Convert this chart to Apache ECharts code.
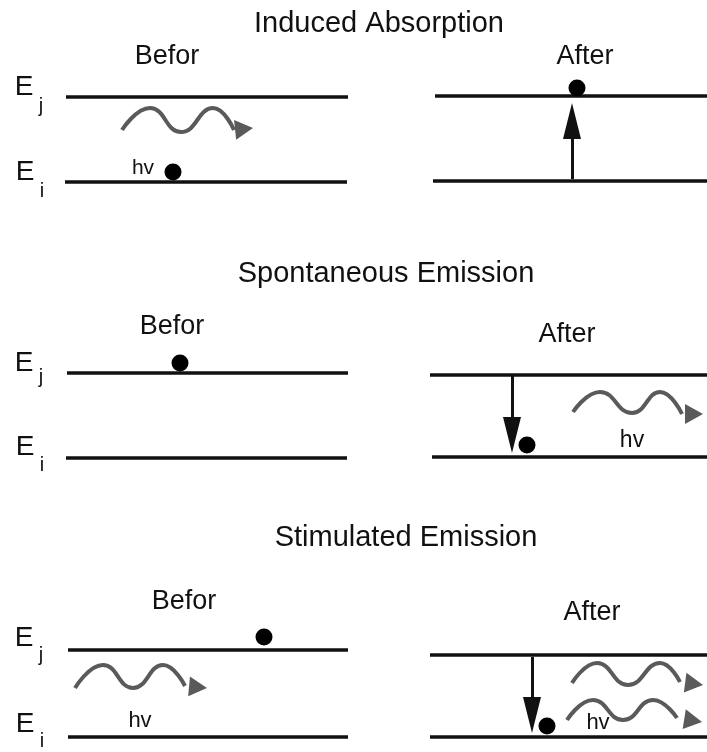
<!DOCTYPE html>
<html>
<head>
<meta charset="utf-8">
<title>Induced Absorption, Spontaneous and Stimulated Emission</title>
<script src="https://cdn.jsdelivr.net/npm/echarts@6/dist/echarts.min.js"></script>
<style>
  html, body { margin: 0; padding: 0; background: #fff; }
  #chart { width: 707px; height: 752px; }
</style>
</head>
<body>
<div id="chart"></div>
<script>
// units are the sketch's own pixels, y grows downwards
const panelNames = ['Induced Absorption', 'Spontaneous Emission', 'Stimulated Emission']
const stageNames = ['Befor', 'After']
const levelNames = ['j', 'i']

// energy levels: [xStart, xEnd, y]
const levels = [
  [66, 348, 97], [65, 347, 182], [435, 707, 96], [433, 707, 181],
  [67, 348, 373], [66, 347, 458], [430, 707, 375], [432, 707, 457],
  [68, 348, 650], [68, 348, 737], [430, 707, 655], [430, 707, 737],
]
// electrons: [x, y]
const electrons = [
  [173, 172], [577, 88], [180, 363], [527, 445], [264, 637], [547, 726],
]
// transitions: [x, yFrom, yTip]
const transitions = [
  [572, 179, 103], [512, 376, 453], [532, 657, 733],
]
// photons: crests and troughs, last point is the arrow tip
const photonA = [[122, 130], [150, 108], [181, 132], [213, 108], [234, 130], [253, 128]]
const photonB = [[573, 412], [600, 392], [632, 413], [660, 392], [682, 414], [703, 414]]
const photonC = [[75, 688], [103, 665], [133, 688], [163, 665], [185, 686], [207, 688]]
const photonD = [[572, 683], [597, 663], [628, 685], [660, 663], [680, 682], [703, 685]]
const photonE = [[567, 720], [593, 700], [623, 720], [653, 700], [677, 718], [702, 722]]
const photons = [photonA, photonB, photonC, photonD, photonE]

const FONT = '"Liberation Sans", Arial, sans-serif'
const INK = '#111'
const WAVE = '#5a5a5a'
const HEAD = [20, 18] // photon arrow head: base, length
const TRANS_HEAD = [18, 36] // transition arrow head: base, length

function txt(text, x, y, size) {
  return {
    text: text,
    left: x,
    top: y,
    padding: 0,
    textAlign: 'center',
    textVerticalAlign: 'middle',
    textStyle: { fontFamily: FONT, fontSize: size, fontWeight: 'normal', color: INK },
  }
}

// arrow head centred behind the tip, pointing from a to b
function head(a, b, size) {
  let dx = b[0] - a[0]
  let dy = b[1] - a[1]
  let len = Math.sqrt(dx * dx + dy * dy)
  let rot = -Math.atan2(dx, -dy) * 180 / Math.PI
  return {
    value: [b[0] - dx / len * size[1] / 2, b[1] - dy / len * size[1] / 2],
    symbolSize: size,
    symbolRotate: rot,
  }
}

// text layout
let titles = [
  txt(panelNames[0], 379, 24, 29),
  txt(panelNames[1], 386, 274, 29),
  txt(panelNames[2], 406, 538, 29),
  txt(stageNames[0], 167, 57, 27), txt(stageNames[1], 585, 57, 27),
  txt(stageNames[0], 172, 327, 27), txt(stageNames[1], 567, 335, 27),
  txt(stageNames[0], 184, 602, 27), txt(stageNames[1], 592, 613, 27),
  txt('hv', 143, 168, 21), txt('hv', 632, 441, 23),
  txt('hv', 140, 721, 22), txt('hv', 598, 723, 22),
]
const eRows = [[87, 172], [363, 447], [638, 724]]
const subRows = [[106, 191], [377, 465], [655, 741]]
eRows.forEach((r, k) => {
  titles.push(txt('E', 24, r[0], 28), txt('E', 25, r[1], 28))
  titles.push(txt(levelNames[0], 41, subRows[k][0], 20), txt(levelNames[1], 42, subRows[k][1], 20))
})

let series = [
  {
    name: 'levels',
    type: 'lines',
    coordinateSystem: 'cartesian2d',
    silent: true,
    lineStyle: { color: INK, width: 3.5, opacity: 1 },
    data: levels.map(l => ({ coords: [[l[0], l[2]], [l[1], l[2]]] })),
  },
  {
    name: 'transitions',
    type: 'lines',
    coordinateSystem: 'cartesian2d',
    silent: true,
    lineStyle: { color: INK, width: 3, opacity: 1 },
    data: transitions.map(t => {
      let dir = t[2] > t[1] ? 1 : -1
      return { coords: [[t[0], t[1]], [t[0], t[2] - dir * (TRANS_HEAD[1] - 2)]] }
    }),
  },
  {
    name: 'transition heads',
    type: 'scatter',
    silent: true,
    symbol: 'triangle',
    itemStyle: { color: INK, opacity: 1 },
    data: transitions.map(t => head([t[0], t[1]], [t[0], t[2]], TRANS_HEAD)),
  },
]

photons.forEach((p, k) => {
  series.push({
    name: 'photon' + k,
    type: 'line',
    smooth: 0.5,
    silent: true,
    symbol: 'none',
    lineStyle: { color: WAVE, width: 4 },
    data: p.slice(0, p.length - 1),
  })
})

series.push({
  name: 'photon heads',
  type: 'scatter',
  silent: true,
  symbol: 'triangle',
  itemStyle: { color: WAVE, opacity: 1 },
  data: photons.map(p => head(p[p.length - 2], p[p.length - 1], HEAD)),
})

series.push({
  name: 'electrons',
  type: 'scatter',
  silent: true,
  symbol: 'circle',
  symbolSize: 17,
  itemStyle: { color: '#000', opacity: 1 },
  data: electrons,
  z: 5,
})

let myChart = echarts.init(document.getElementById('chart'))
myChart.setOption({
  animation: false,
  backgroundColor: '#fff',
  title: titles,
  grid: { left: 0, right: 0, top: 0, bottom: 0 },
  xAxis: { type: 'value', min: 0, max: 707, show: false },
  yAxis: { type: 'value', min: 0, max: 752, inverse: true, show: false },
  series: series,
})
</script>
</body>
</html>
